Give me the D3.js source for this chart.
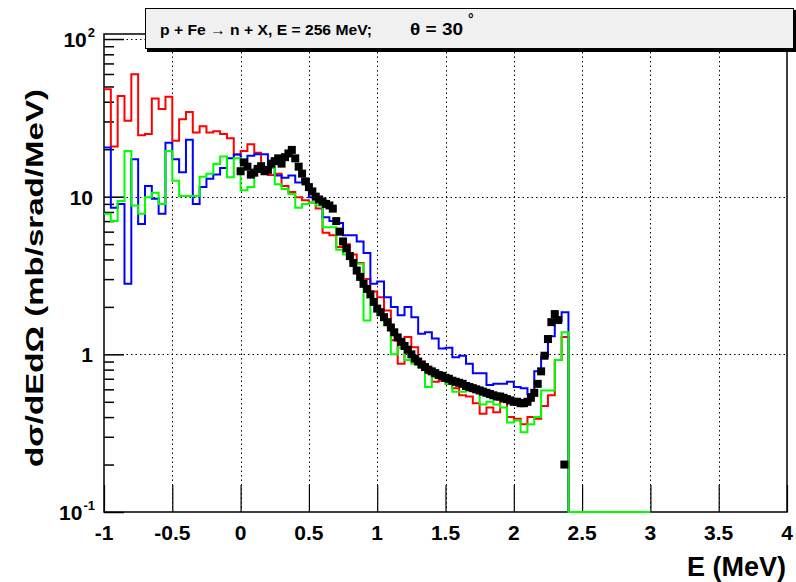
<!DOCTYPE html>
<html><head><meta charset="utf-8">
<script src="https://cdn.jsdelivr.net/npm/d3@7"></script>
<style>
html,body{margin:0;padding:0;background:#fff;}
svg{display:block;font-family:"Liberation Sans",Arial,Helvetica,sans-serif;}
</style></head>
<body>
<svg id="chart" width="796" height="582"></svg>
<script>
// ---------------- data ----------------
const binStart = -1;
const binWidth = 0.05;
// histogram contents, bins of 0.05 MeV from -1 to 3 (zeros beyond 2.4)
const redValues = [48,20.8,43.5,30.3,59.8,24.5,25,42,36,43,22.6,31,34.5,25.5,28,25.5,26,25,23.5,18.5,
  19.5,21.5,19,15.3,13.7,14.0,11.7,10.7,9.9,9.5,9.2,8.4,5.9,5.7,4.8,5.0,4.3,3.8,3.0,2.5,
  2.3,1.9,1.23,0.87,1.29,1.11,0.9,0.76,0.67,0.68,0.65,0.61,0.55,0.54,0.49,0.42,0.46,0.43,0.50,0.40,
  0.39,0.36,0.40,0.39,0.47,0.55,0.92,1.29,0,0,0,0,0,0,0,0,0,0,0,0];
const blueValues = [20.5,8.5,9.0,2.8,17.3,6.7,11.7,9.7,7.8,22,17.3,14.3,23,9.0,11.5,13,13.8,15.2,17.5,18.5,
  16.5,18.2,18.6,18.6,15.3,13.6,13.2,13.6,12.3,12.9,9.9,9.7,7.4,7.0,6.8,5.7,5.7,5.2,4.4,2.8,
  2.9,2.3,2.0,1.77,2.0,1.72,1.35,1.38,1.26,1.09,1.1,0.96,0.98,0.87,0.76,0.76,0.64,0.65,0.65,0.67,
  0.62,0.61,0.56,0.78,0.97,1.3,1.62,1.85,0,0,0,0,0,0,0,0,0,0,0,0];
const greenValues = [7.8,7.0,9.4,19.5,8.8,7.8,9.9,10.6,9.0,19.5,12.6,10.1,10.1,10.1,13.4,14,16.1,18,13.3,17.5,
  11,11.5,15.2,15,15.5,12,11.2,10.4,8.5,9.0,9.2,8.8,6.4,6.4,4.6,4.3,3.9,3.75,1.64,2.2,
  1.77,1.53,1.0,1.1,0.92,0.87,0.83,0.62,0.72,0.76,0.65,0.58,0.58,0.59,0.58,0.48,0.50,0.48,0.46,0.37,
  0.38,0.32,0.36,0.40,0.59,0.59,0.92,1.38,0,0,0,0,0,0,0,0,0,0,0,0];
// experimental points
const dataE = [0.000,0.025,0.050,0.075,0.100,0.125,0.150,0.175,0.200,0.225,0.250,0.275,0.300,0.325,0.350,0.375,0.400,0.425,0.450,0.475,
  0.500,0.525,0.550,0.575,0.600,0.625,0.650,0.675,0.700,0.725,0.750,0.775,0.800,0.825,0.850,0.875,0.900,0.925,0.950,0.975,
  1.000,1.025,1.050,1.075,1.100,1.125,1.150,1.175,1.200,1.225,1.250,1.275,1.300,1.325,1.350,1.375,1.400,1.425,1.450,1.475,
  1.500,1.525,1.550,1.575,1.600,1.625,1.650,1.675,1.700,1.725,1.750,1.775,1.800,1.825,1.850,1.875,1.900,1.925,1.950,1.975,
  2.000,2.025,2.050,2.075,2.100,2.125,2.150,2.175,2.200,2.225,2.250,2.275,2.300,2.325,2.370];
const dataV = [14.5,16.5,15.5,13.8,14.2,15.0,15.6,14.5,14.8,16.2,16.8,17.5,16.2,17.8,18.8,19.8,17.5,15.5,14.0,12.5,
  11.5,10.8,10.0,9.6,9.3,9.0,8.8,8.4,7.0,6.0,5.2,4.7,4.2,3.8,3.4,3.1,2.8,2.6,2.4,2.15,
  1.95,1.85,1.72,1.6,1.48,1.38,1.28,1.2,1.13,1.07,1.0,0.94,0.9,0.86,0.83,0.8,0.78,0.76,0.74,0.73,
  0.71,0.70,0.68,0.67,0.66,0.65,0.63,0.62,0.61,0.60,0.59,0.58,0.57,0.56,0.55,0.54,0.54,0.53,0.52,0.51,
  0.50,0.50,0.49,0.49,0.50,0.53,0.57,0.65,0.78,0.98,1.25,1.6,1.8,1.65,0.2];
// axes
const xDomain = [-1, 4];
const yDomain = [0.1, 107.6];
const xTicks = [-1,-0.5,0,0.5,1,1.5,2,2.5,3,3.5,4];
const xTickLabels = ["-1","-0.5","0","0.5","1","1.5","2","2.5","3","3.5","4"];
const yTicks = [0.1,1,10,100];
const yTickBase = ["10","1","10","10"];
const yTickExp = ["-1","","","2"];
const seriesColors = ["#ff0000","#0000ff","#00ff00"];
const titleText = "p + Fe  \u2192 n + X, E = 256 MeV;";
const angleText = "\u03b8 = 30";
const xTitle = "E (MeV)";
const yTitle = "d\u03c3/dEd\u03a9 (mb/srad/MeV)";

// ---------------- drawing ----------------
const svg = d3.select("#chart");
const L = 104, R = 787, T = 34, B = 512;
const x = d3.scaleLinear().domain(xDomain).range([L, R]);
const y = d3.scaleLog().domain(yDomain).range([B, T]);
const yv = v => y(Math.max(v, yDomain[0]));

// grid
const grid = svg.append("g").attr("stroke","#000").attr("stroke-width",1).attr("stroke-dasharray","1.5,3");
grid.selectAll("line.gx").data(xTicks.filter(t => t > xDomain[0] && t < xDomain[1])).join("line")
  .attr("x1", d => Math.round(x(d)) + 0.5).attr("x2", d => Math.round(x(d)) + 0.5)
  .attr("y1", T).attr("y2", B);
grid.selectAll("line.gy").data(yTicks.filter(t => t > yDomain[0])).join("line")
  .attr("y1", d => Math.round(y(d)) + 0.5).attr("y2", d => Math.round(y(d)) + 0.5)
  .attr("x1", L).attr("x2", R);

// axes
const xAxis = d3.axisBottom(x).tickValues(xTicks).tickSize(-27).tickFormat("");
svg.append("g").attr("transform", `translate(0,${B})`).call(xAxis)
  .call(g => g.select(".domain").remove())
  .call(g => g.selectAll("line").attr("stroke","#000").attr("stroke-width",1.2));
const minor = [];
yTicks.forEach(t => { for (let k = 2; k <= 9; k++) { const v = t * k; if (v <= yDomain[1]) minor.push(v); } });
svg.append("g").attr("transform", `translate(${L},0)`)
  .call(d3.axisLeft(y).tickValues(yTicks).tickSize(-20).tickFormat(""))
  .call(g => g.select(".domain").remove())
  .call(g => g.selectAll("line").attr("stroke","#000").attr("stroke-width",1.5));
svg.append("g").attr("transform", `translate(${L},0)`)
  .call(d3.axisLeft(y).tickValues(minor).tickSize(-10).tickFormat(""))
  .call(g => g.select(".domain").remove())
  .call(g => g.selectAll("line").attr("stroke","#000").attr("stroke-width",1.5));

// frame
svg.append("rect").attr("x", L).attr("y", T).attr("width", R - L).attr("height", B - T)
  .attr("fill","none").attr("stroke","#000").attr("stroke-width",1.5);

// tick labels
const xl = svg.append("g").attr("font-size",21).attr("font-weight","bold").attr("text-anchor","middle");
xl.selectAll("text").data(xTicks).join("text")
  .attr("x", d => x(d)).attr("y", 540).text((d,i) => xTickLabels[i]);
const yl = svg.append("g").attr("font-size",21).attr("font-weight","bold");
yTicks.forEach((t, i) => {
  if (yTickExp[i]) {
    const ex = yl.append("text").attr("x", 95).attr("y", y(t) - 2).attr("font-size", 13)
      .attr("text-anchor","end").text(yTickExp[i]);
    const w = ex.node().getComputedTextLength();
    yl.append("text").attr("x", 95 - w - 1).attr("y", y(t) + 8).attr("text-anchor","end").text(yTickBase[i]);
  } else {
    yl.append("text").attr("x", 93).attr("y", y(t) + 8).attr("text-anchor","end").text(yTickBase[i]);
  }
});

// clip
svg.append("clipPath").attr("id","clip").append("rect")
  .attr("x", L).attr("y", T).attr("width", R - L).attr("height", B - T + 1.5);

// histograms
const edges = redValues.map((_, i) => +(binStart + i * binWidth).toFixed(3));
const lineGen = d3.line().x(d => x(d[0])).y(d => yv(d[1])).curve(d3.curveStepAfter);
[redValues, blueValues, greenValues].forEach((vals, si) => {
  const pts = vals.map((v, i) => [edges[i], v]);
  pts.push([+(edges[edges.length - 1] + binWidth).toFixed(3), vals[vals.length - 1]]);
  svg.append("path").attr("clip-path","url(#clip)").attr("d", lineGen(pts))
    .attr("fill","none").attr("stroke", seriesColors[si]).attr("stroke-width",2);
});

// data points
svg.append("g").attr("clip-path","url(#clip)").selectAll("rect").data(dataE).join("rect")
  .attr("x", (d,i) => x(d) - 4).attr("y", (d,i) => yv(dataV[i]) - 4)
  .attr("width", 8).attr("height", 8).attr("fill","#000");

// axis titles
svg.append("text").attr("x", 786).attr("y", 576).attr("text-anchor","end")
  .attr("font-size", 27).attr("font-weight","bold").text(xTitle);
svg.append("text").attr("transform","translate(43,278) rotate(-90)").attr("text-anchor","middle")
  .attr("font-size", 24).attr("font-weight","bold")
  .attr("textLength", 378).attr("lengthAdjust","spacingAndGlyphs").text(yTitle);

// title box
svg.append("rect").attr("x", 147).attr("y", 10).attr("width", 650).attr("height", 42).attr("fill","#000");
svg.append("rect").attr("x", 145.5).attr("y", 8.5).attr("width", 648).attr("height", 40)
  .attr("fill","#f0f0f0").attr("stroke","#000").attr("stroke-width",1);
svg.append("text").attr("x", 160).attr("y", 35).attr("font-size", 15).attr("font-weight","bold")
  .attr("textLength", 212).attr("lengthAdjust","spacingAndGlyphs").text(titleText);
svg.append("text").attr("x", 410).attr("y", 35).attr("font-size", 16).attr("font-weight","bold")
  .attr("textLength", 53).attr("lengthAdjust","spacingAndGlyphs").text(angleText);
svg.append("text").attr("x", 468).attr("y", 24).attr("font-size", 14).attr("font-weight","bold").text("\u00b0");
</script>
</body></html>
